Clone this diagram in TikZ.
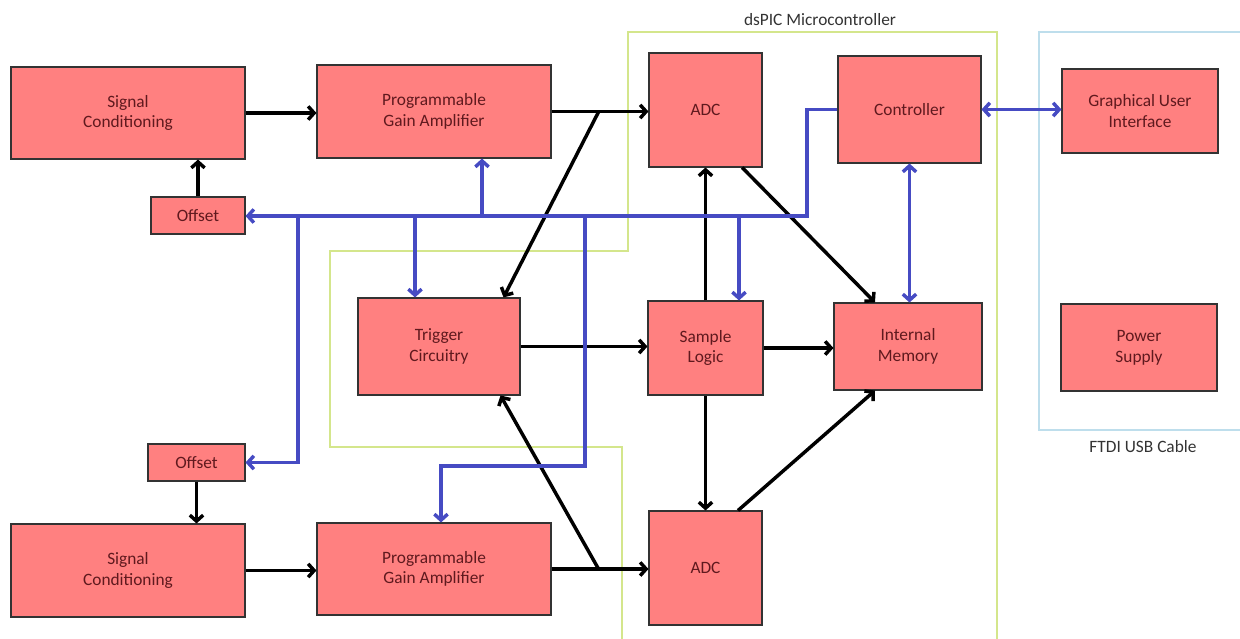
\documentclass[tikz,border=0pt]{standalone}
\usepackage{fontspec}
\setmainfont{Carlito}
\usepackage{tikz}
\usetikzlibrary{arrows.meta}

\definecolor{boxred}{RGB}{255,128,128}
\definecolor{boxtext}{RGB}{95,25,30}
\definecolor{busblue}{RGB}{70,75,195}
\definecolor{mcugreen}{RGB}{212,230,140}
\definecolor{ftdiblue}{RGB}{190,222,236}

\begin{document}
\begin{tikzpicture}[x=0.75pt,y=-0.75pt,>={Straight Barb[length=4.5pt,width=10pt]},
                    main node/.style={rectangle,draw=black!80,line width=0.8pt,fill=boxred,text=boxtext,
                                      align=center,inner sep=0pt,font=\fontsize{13}{15.5}\selectfont},
                    sig/.style={->,line width=2.6pt,black},
                    ctl/.style={->,line width=2.6pt,busblue},
                    frame/.style={line width=0.9pt},
                    caption/.style={text=black!80,font=\fontsize{13}{15.5}\selectfont}]

  \useasboundingbox (0,0) rectangle (1240,639);

  % dsPIC and FTDI outlines
  \draw[frame,mcugreen] (622,639) -- (622,447) -- (330,447) -- (330,251) -- (628,251)
                        -- (628,32) -- (997,32) -- (997,639);
  \draw[frame,ftdiblue] (1240,32) -- (1039,32) -- (1039,430) -- (1240,430);
  \node[caption] (mcu) at (820,20) {dsPIC Microcontroller};
  \node[caption] (ftdi) at (1143,447) {FTDI USB Cable};

  \node[main node, minimum width=175.5pt, minimum height=69pt] (sc1) at (128,113) {Signal\\Conditioning};
  \node[main node, minimum width=175.5pt, minimum height=69.75pt] (pga1) at (434,111.5) {Programmable\\Gain Amplifier};
  \node[main node, minimum width=70.5pt, minimum height=27.75pt] (off1) at (198,215.5) {Offset};
  \node[main node, minimum width=84.75pt, minimum height=85.5pt] (adc1) at (705.5,110) {ADC};
  \node[main node, minimum width=107.25pt, minimum height=80.25pt] (ctrl) at (909.5,109.5) {Controller};
  \node[main node, minimum width=117pt, minimum height=63pt] (gui) at (1140,111) {Graphical User\\Interface};
  \node[main node, minimum width=121.5pt, minimum height=72.75pt] (trig) at (439,346.5) {Trigger\\Circuitry};
  \node[main node, minimum width=86.25pt, minimum height=70.5pt] (samp) at (705.5,348) {Sample\\Logic};
  \node[main node, minimum width=111pt, minimum height=65.25pt] (mem) at (908,346.5) {Internal\\Memory};
  \node[main node, minimum width=117pt, minimum height=65.25pt] (pwr) at (1139,347.5) {Power\\Supply};
  \node[main node, minimum width=72.75pt, minimum height=27.75pt] (off2) at (196.5,462.5) {Offset};
  \node[main node, minimum width=175.5pt, minimum height=69.75pt] (sc2) at (128,570.5) {Signal\\Conditioning};
  \node[main node, minimum width=175.5pt, minimum height=69pt] (pga2) at (434,569) {Programmable\\Gain Amplifier};
  \node[main node, minimum width=84.75pt, minimum height=85.5pt] (adc2) at (705.5,568) {ADC};

  \coordinate (br1) at (599,111);
  \coordinate (br2) at (598,568);
  \coordinate (bend) at (807,216);
  \coordinate (t1) at (298,216);
  \coordinate (t2) at (415,216);
  \coordinate (t3) at (482,216);
  \coordinate (t4) at (585,216);
  \coordinate (t5) at (739,216);
  \coordinate (g2) at (441,466);

  % signal path
  \draw[sig] (off1.north) -- (off1.north |- sc1.south);
  \draw[sig] (sc1.east) -- (sc1.east -| pga1.west);
  \draw[sig] (pga1.east) -- (pga1.east -| adc1.west);
  \draw[sig] (br1) -- ([xshift=-12.75pt]trig.north east);
  \draw[sig] (samp.north) -- (samp.north |- adc1.south);
  \draw[sig] ([xshift=27.5pt]adc1.south) -- ([xshift=-24.75pt]mem.north);
  \draw[sig] (trig.east) -- (trig.east -| samp.west);
  \draw[sig] (samp.east) -- (samp.east -| mem.west);
  \draw[sig] (samp.south) -- (samp.south |- adc2.north);
  \draw[sig] ([xshift=24.4pt]adc2.north) -- ([xshift=-24.75pt]mem.south);
  \draw[sig] (off2.south) -- (off2.south |- sc2.north);
  \draw[sig] (sc2.east) -- (sc2.east -| pga2.west);
  \draw[sig] (pga2.east) -- (pga2.east -| adc2.west);
  \draw[sig] (br2) -- ([xshift=-15pt]trig.south east);

  % control lines
  \draw[ctl] (ctrl.west) -| (bend) -- (bend -| off1.east);
  \draw[ctl] (t1) |- (off2.east);
  \draw[ctl] (t2) -- (t2 |- trig.north);
  \draw[ctl] (t3) -- (t3 |- pga1.south);
  \draw[ctl] (t4) |- (g2) -- (g2 |- pga2.north);
  \draw[ctl] (t5) -- (t5 |- samp.north);
  \draw[ctl,<->] (ctrl.south) -- (ctrl.south |- mem.north);
  \draw[ctl,<->] (ctrl.east) -- (ctrl.east -| gui.west);
\end{tikzpicture}
\end{document}
